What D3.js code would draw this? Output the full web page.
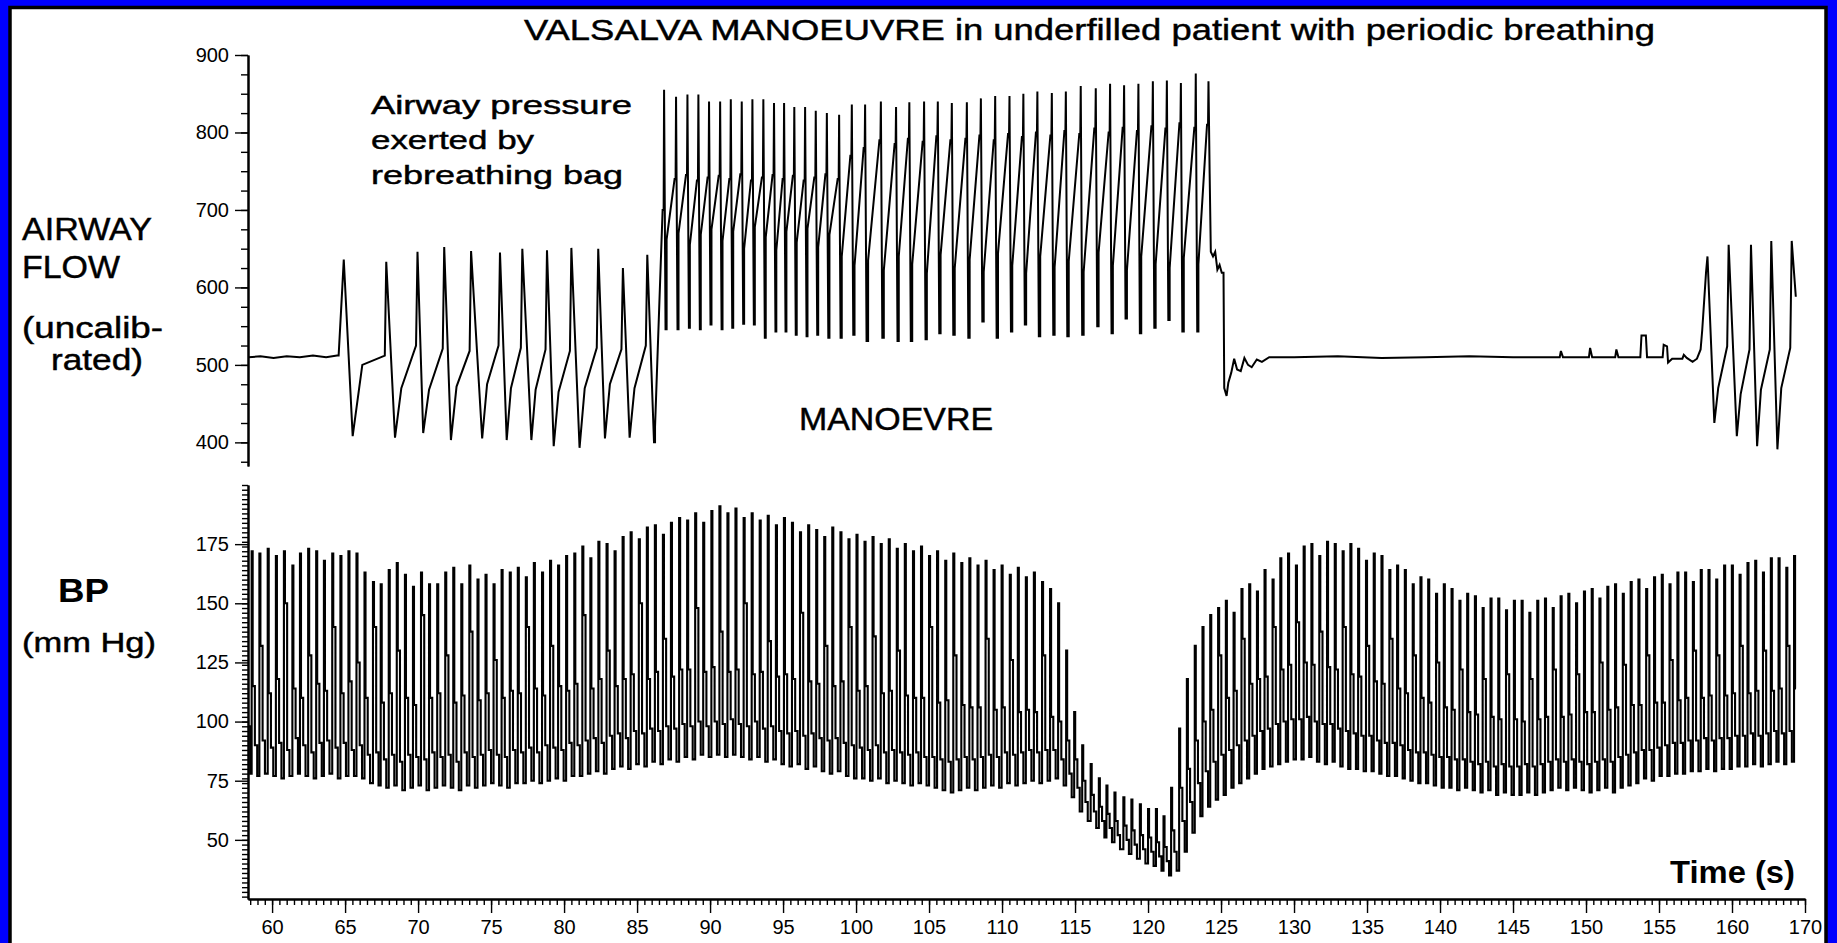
<!DOCTYPE html>
<html>
<head>
<meta charset="utf-8">
<script src="https://cdn.jsdelivr.net/npm/d3@7"></script>
<style>
  body { margin: 0; background: #0000fe; }
  svg { display: block; }
  text { font-family: "Liberation Sans", Arial, sans-serif; fill: #000; }
</style>
</head>
<body>
<div id="chart"></div>
<script>
// ---------- axis ticks ----------
var flowTicks = [400, 500, 600, 700, 800, 900];
var bpTicks = [50, 75, 100, 125, 150, 175];
var timeTicks = [60, 65, 70, 75, 80, 85, 90, 95, 100, 105, 110, 115, 120, 125, 130, 135, 140, 145, 150, 155, 160, 165];
var timeTickLabels = ["60", "65", "70", "75", "80", "85", "90", "95", "100", "105", "110", "115", "120", "125", "130", "135", "140", "145", "150", "155", "160", "170"];

// ---------- airway flow ----------
// quiet period before the first breath
var baseT = [58.38, 59.2, 60.1, 61.0, 61.9, 62.8, 63.7, 64.45];
var baseV = [510, 511, 509, 511, 510, 512, 510, 512];

// periodic breaths before the manoeuvre (peak, following trough, rise levels)
var breathPeakT = [64.91, 67.82, 69.96, 71.79, 73.63, 75.61, 77.14, 78.83, 80.50, 82.34, 84.03, 85.70];
var breathPeakV = [636, 633, 646, 652, 647, 645, 650, 648, 651, 650, 625, 642];
var breathMinT = [65.52, 68.42, 70.35, 72.25, 74.39, 76.07, 77.76, 79.29, 81.06, 82.80, 84.49, 86.16];
var breathMinV = [408, 406, 412, 403, 405, 403, 403, 395, 393, 405, 406, 400];
var breathMidV = [512, 500, 470, 468, 472, 475, 470, 468, 465, 470, 475, 470];
var breathKneeV = [600, 512, 525, 521, 518, 525, 522, 520, 518, 522, 520, 525];

// rebreathing-bag manoeuvre
var manPeakT = [86.85, 87.67, 88.45, 89.20, 89.93, 90.69, 91.42, 92.17, 92.90, 93.65,
  94.38, 95.07, 95.77, 96.51, 97.24, 98.00, 98.84, 99.71, 100.62, 101.70,
  102.74, 103.65, 104.66, 105.60, 106.56, 107.59, 108.55, 109.53, 110.51, 111.46,
  112.42, 113.41, 114.37, 115.39, 116.42, 117.40, 118.36, 119.34, 120.33, 121.29,
  122.25, 123.27, 124.14];
var manPeakV = [855, 846, 849, 849, 840, 840, 843, 840, 843, 843,
  838, 838, 833, 833, 828, 825, 823, 836, 836, 840,
  833, 839, 840, 840, 838, 839, 844, 847, 847, 850,
  853, 851, 853, 860, 857, 863, 861, 863, 866, 867,
  864, 876, 866];
var manMinT = [86.95, 87.77, 88.55, 89.30, 90.03, 90.79, 91.52, 92.27, 93.00, 93.75,
  94.48, 95.17, 95.87, 96.61, 97.34, 98.10, 98.94, 99.81, 100.72, 101.80,
  102.84, 103.75, 104.76, 105.70, 106.66, 107.69, 108.65, 109.63, 110.61, 111.56,
  112.52, 113.51, 114.47, 115.49, 116.52, 117.50, 118.46, 119.44, 120.43, 121.39,
  122.35, 123.37, 124.22];
var manMinV = [546, 546, 548, 546, 552, 546, 548, 553, 552, 535,
  543, 543, 539, 537, 539, 535, 535, 539, 531, 535,
  531, 531, 533, 541, 539, 535, 556, 535, 543, 552,
  537, 539, 537, 539, 550, 541, 560, 541, 548, 558,
  543, 543, 747];
var manMidV = [420, 662, 670, 655, 668, 675, 660, 672, 650, 678,
  665, 648, 672, 658, 676, 652, 668, 640, 628, 635,
  622, 640, 630, 618, 642, 625, 636, 620, 644, 628,
  618, 640, 626, 634, 620, 645, 628, 622, 640, 630,
  625, 638, 630];
var manKneeV = [700, 740, 745, 738, 742, 744, 740, 746, 738, 742,
  745, 740, 744, 738, 742, 746, 740, 770, 780, 790,
  785, 792, 788, 795, 790, 792, 796, 790, 798, 794,
  800, 796, 802, 798, 805, 800, 806, 802, 808, 805,
  812, 806, 810];

// release and apnoea after the manoeuvre
var tailT = [124.30, 124.45, 124.60, 124.75, 124.90, 125.05, 125.17, 125.22, 125.38, 125.50,
  125.70, 125.90, 126.10, 126.35, 126.60, 126.85, 127.10, 127.45, 127.80, 128.30,
  130.0, 133.0, 136.0, 139.0, 142.0, 145.0, 148.20, 148.28, 148.42, 150.20,
  150.28, 150.42, 152.00, 152.08, 152.22, 153.72, 153.80, 154.10, 154.18, 155.25,
  155.32, 155.55, 155.62, 155.90, 156.60, 156.70, 156.90, 157.30, 157.60, 157.85];
var tailV = [646, 640, 646, 623, 629, 619, 619, 470, 460, 477,
  490, 508, 494, 492, 509, 500, 497, 507, 504, 510,
  510, 511, 509, 510, 511, 510, 510, 518, 510, 510,
  522, 510, 510, 520, 510, 510, 538, 538, 510, 510,
  526, 524, 503, 508, 508, 513, 509, 504, 508, 520];

// breathing resumes
var postPeakT = [158.32, 159.77, 161.30, 162.69, 164.09];
var postPeakV = [640, 655, 655, 660, 660];
var postMinT = [158.79, 160.33, 161.72, 163.11, 164.37];
var postMinV = [425, 408, 395, 391, 588];
var postMidV = [545, 470, 462, 468, 470];
var postKneeV = [619, 524, 520, 520, 522];

// ---------- blood pressure, beat by beat ----------
var bpLeadT = [58.38, 58.50];
var bpLeadV = [98, 78];
var bpEndT = 164.38;

var bpTimeRest = [58.60, 59.13, 59.70, 60.26, 60.81, 61.39, 61.91, 62.47, 63.02, 63.55,
  64.12, 64.68, 65.23, 65.78, 66.33, 66.91, 67.44, 67.99, 68.54, 69.10,
  69.65, 70.20, 70.75, 71.31, 71.86, 72.41, 72.96, 73.51, 74.07, 74.62,
  75.17, 75.72, 76.28, 76.83, 77.38, 77.93, 78.49, 79.04, 79.59, 80.14,
  80.70, 81.25, 81.80, 82.35, 82.91, 83.46, 84.01, 84.56, 85.12, 85.67,
  86.22, 86.77, 87.32, 87.88, 88.43, 88.98, 89.53, 90.09, 90.64, 91.19,
  91.74, 92.30, 92.85, 93.40, 93.95, 94.51, 95.06, 95.61, 96.16, 96.72,
  97.27, 97.82, 98.37, 98.93, 99.48, 100.03, 100.58, 101.13, 101.69, 102.24,
  102.79, 103.34, 103.90, 104.45, 105.00, 105.55, 106.11, 106.66, 107.21, 107.76,
  108.32, 108.87, 109.42, 109.97, 110.53, 111.08, 111.63, 112.18, 112.74, 113.29,
  113.84, 114.39];
var bpSysRest = [172, 171, 173, 170, 172, 166, 171, 173, 172, 168,
  171, 170, 172, 171, 163, 159, 158, 164, 167, 162,
  157, 163, 158, 158, 163, 165, 158, 166, 160, 162,
  158, 164, 163, 165, 161, 167, 163, 168, 166, 170,
  171, 174, 169, 176, 175, 172, 178, 180, 177, 182,
  183, 179, 184, 186, 185, 188, 184, 189, 191, 188,
  190, 186, 188, 185, 187, 183, 186, 184, 180, 183,
  181, 178, 182, 180, 177, 179, 176, 178, 175, 177,
  173, 175, 172, 174, 170, 172, 168, 171, 167, 169,
  166, 168, 164, 166, 162, 165, 161, 163, 159, 156,
  150, 130];
var bpNotchRest = [115, 132, 112, 118, 150, 114, 110, 128, 116, 113,
  140, 112, 117, 125, 110, 140, 108, 112, 130, 110,
  107, 145, 110, 112, 128, 108, 111, 138, 109, 112,
  126, 110, 113, 112, 140, 114, 111, 132, 115, 113,
  116, 145, 114, 118, 130, 115, 118, 120, 150, 118,
  121, 135, 119, 122, 122, 148, 121, 123, 138, 121,
  122, 150, 120, 121, 134, 119, 120, 118, 146, 117,
  116, 132, 115, 117, 140, 113, 115, 136, 112, 113,
  130, 111, 110, 110, 140, 108, 109, 128, 107, 106,
  106, 135, 105, 106, 126, 104, 105, 104, 128, 102,
  100, 92];
var bpLateRest = [90, 92, 89, 91, 88, 93, 90, 87, 91, 92,
  89, 91, 88, 90, 86, 87, 84, 86, 83, 86,
  85, 84, 87, 85, 86, 83, 87, 85, 86, 88,
  86, 85, 88, 87, 89, 87, 90, 89, 88, 91,
  90, 92, 93, 91, 94, 95, 93, 96, 95, 97,
  96, 98, 97, 99, 98, 100, 98, 100, 99, 101,
  99, 98, 100, 97, 98, 96, 95, 96, 94, 95,
  93, 92, 93, 91, 90, 89, 88, 90, 87, 88,
  87, 86, 87, 85, 85, 84, 83, 84, 85, 84,
  85, 86, 85, 87, 86, 87, 88, 87, 88, 88,
  84, 78];
var bpDiaRest = [77, 78, 77, 76, 77, 78, 77, 76, 77, 78,
  76, 77, 77, 76, 74, 73, 72, 73, 71, 72,
  73, 71, 72, 73, 72, 71, 73, 72, 73, 74,
  73, 72, 74, 74, 75, 74, 75, 76, 75, 77,
  77, 78, 79, 78, 80, 81, 80, 82, 81, 83,
  82, 84, 83, 85, 84, 86, 85, 86, 85, 86,
  85, 84, 85, 83, 84, 82, 81, 82, 80, 81,
  79, 78, 79, 77, 76, 76, 75, 76, 74, 75,
  74, 73, 74, 73, 72, 71, 70, 71, 72, 71,
  72, 73, 72, 74, 73, 74, 75, 74, 75, 76,
  73, 68];

var bpTimeStrain = [114.94, 115.49, 116.07, 116.63, 117.15, 117.70, 118.31, 118.86, 119.44, 120.00, 120.54, 121.06, 121.58, 122.13];
var bpSysStrain = [104, 90, 82, 76, 73, 70, 68, 67, 65, 63, 63, 60, 72, 97];
var bpNotchStrain = [84, 75, 69, 64, 61, 58, 56, 54, 52, 51, 49, 47, 54, 72];
var bpLateStrain = [72, 66, 62, 58, 55, 52, 50, 48, 46, 45, 43, 41, 45, 58];
var bpDiaStrain = [62, 58, 55, 51, 49, 46, 44, 42, 40, 39, 37, 35, 37, 45];

var bpTimeRecovery = [122.66, 123.20, 123.73, 124.26, 124.80, 125.33, 125.86, 126.40, 126.93, 127.46,
  127.98, 128.53, 129.06, 129.59, 130.13, 130.66, 131.19, 131.73, 132.26, 132.79,
  133.33, 133.86, 134.39, 134.93, 135.46, 135.99, 136.53, 137.06, 137.59, 138.13,
  138.66, 139.19, 139.73, 140.26, 140.79, 141.33, 141.86, 142.39, 142.92, 143.46,
  143.99, 144.52, 145.06, 145.59, 146.12, 146.66, 147.19, 147.72, 148.26, 148.79,
  149.32, 149.86, 150.39, 150.92, 151.46, 151.99, 152.52, 153.06, 153.59, 154.12,
  154.66, 155.19, 155.72, 156.26, 156.79, 157.32, 157.86, 158.39, 158.92, 159.46,
  159.99, 160.52, 161.06, 161.59, 162.12, 162.66, 163.19, 163.72, 164.25];
var bpSysRecovery = [118, 132, 140, 145, 148, 151, 146, 156, 158, 155,
  164, 160, 169, 171, 166, 174, 175, 170, 176, 175,
  172, 175, 173, 168, 171, 170, 164, 166, 164, 158,
  161, 160, 154, 158, 156, 151, 154, 153, 148, 152,
  152, 147, 151, 151, 146, 151, 152, 148, 153, 154,
  150, 155, 156, 152, 157, 158, 154, 159, 160, 156,
  161, 162, 158, 163, 163, 159, 164, 164, 160, 166,
  166, 162, 167, 168, 163, 169, 169, 165, 170];
var bpNotchRecovery = [80, 92, 100, 105, 128, 110, 113, 135, 116, 118,
  119, 140, 122, 124, 142, 125, 124, 138, 123, 122,
  140, 120, 119, 132, 117, 116, 135, 114, 112, 128,
  110, 108, 125, 106, 105, 122, 104, 103, 118, 102,
  101, 120, 101, 100, 118, 101, 102, 122, 102, 103,
  120, 104, 104, 125, 105, 106, 124, 107, 107, 128,
  108, 108, 126, 109, 110, 130, 110, 111, 128, 111,
  112, 132, 112, 113, 130, 113, 114, 132, 114];
var bpLateRecovery = [66, 74, 79, 83, 86, 88, 90, 92, 94, 96,
  97, 99, 100, 101, 101, 102, 100, 99, 99, 97,
  96, 95, 94, 94, 92, 91, 91, 90, 88, 87,
  87, 86, 85, 85, 84, 84, 83, 82, 83, 81,
  82, 81, 81, 82, 81, 82, 83, 84, 83, 84,
  83, 82, 83, 84, 83, 85, 86, 87, 88, 88,
  89, 90, 91, 91, 92, 92, 93, 92, 93, 93,
  94, 94, 95, 94, 95, 96, 95, 96, 97];
var bpDiaRecovery = [53, 60, 64, 67, 69, 72, 74, 76, 78, 80,
  81, 82, 83, 84, 84, 85, 83, 82, 83, 81,
  80, 80, 79, 79, 78, 77, 77, 76, 75, 74,
  74, 73, 72, 72, 71, 72, 71, 70, 71, 69,
  70, 69, 69, 70, 69, 70, 71, 72, 71, 72,
  71, 70, 71, 72, 70, 72, 73, 74, 76, 75,
  77, 77, 78, 78, 79, 79, 80, 79, 80, 80,
  81, 81, 82, 81, 82, 83, 82, 83, 84];

// ---------- chart ----------
var width = 1837, height = 943;

var svg = d3.select("#chart")
  .append("svg")
  .attr("width", width)
  .attr("height", height);

// blue slide background + white panel
svg.append("rect").attr("width", width).attr("height", height).attr("fill", "#0000fe");
svg.append("rect")
  .attr("x", 10).attr("y", 7.5)
  .attr("width", 1816).attr("height", 950)
  .attr("fill", "#fff")
  .attr("stroke", "#000")
  .attr("stroke-width", 3.5);

var x = d3.scaleLinear().domain([58.35, 165]).range([248, 1805]);
var yFlow = d3.scaleLinear().domain([369.5, 900]).range([466, 55]);
var yBP = d3.scaleLinear().domain([25, 200]).range([899, 485]);

function styleAxis(g) {
  g.attr("font-size", 20);
  g.select(".domain").attr("stroke-width", 2);
  g.selectAll(".tick line").attr("stroke-width", 1.4);
}

// airway flow axis
svg.append("g").attr("transform", "translate(248,0)")
  .call(d3.axisLeft(yFlow).tickValues(d3.range(375, 901, 25)).tickSize(7).tickSizeOuter(0).tickFormat(""))
  .call(styleAxis);
svg.append("g").attr("transform", "translate(248,0)")
  .call(d3.axisLeft(yFlow).tickValues(flowTicks).tickSize(13).tickSizeOuter(0).tickPadding(6))
  .call(styleAxis);

// BP axis
svg.append("g").attr("transform", "translate(248,0)")
  .call(d3.axisLeft(yBP).tickValues(d3.range(26, 201, 2)).tickSize(6).tickSizeOuter(0).tickFormat(""))
  .call(styleAxis);
svg.append("g").attr("transform", "translate(248,0)")
  .call(d3.axisLeft(yBP).tickValues(bpTicks).tickSize(13).tickSizeOuter(0).tickPadding(6))
  .call(styleAxis);

// time axis
svg.append("g").attr("transform", "translate(0,899)")
  .call(d3.axisBottom(x).tickValues(d3.range(58.5, 165.01, 0.5)).tickSize(6).tickSizeOuter(0).tickFormat(""))
  .call(styleAxis);
svg.append("g").attr("transform", "translate(0,899)")
  .call(d3.axisBottom(x).tickValues(timeTicks).tickSize(14).tickSizeOuter(0).tickPadding(7)
    .tickFormat(function(d, i) { return timeTickLabels[i]; }))
  .call(styleAxis);

// ---- airway flow trace ----
var flowPoints = baseT.map(function(t, i) { return [t, baseV[i]]; });

// breaths: concave rise; manoeuvre: quick step up, then ramp to the knee before each spike
function addCycles(peakT, peakV, minT, minV, midV, kneeV, stepped) {
  peakT.forEach(function(t, i) {
    var prev = flowPoints[flowPoints.length - 1];
    var tKnee = t - 0.1;
    if (stepped) {
      var tMid = prev[0] + (tKnee - prev[0]) * 0.12;
      flowPoints.push([tMid, prev[1]], [tMid, midV[i]], [tKnee, kneeV[i]], [t - 0.03, kneeV[i]]);
    } else {
      flowPoints.push([prev[0] + (tKnee - prev[0]) * 0.3, midV[i]], [tKnee, kneeV[i]]);
    }
    flowPoints.push([t, peakV[i]]);
    flowPoints.push([minT[i], minV[i]]);
  });
}

addCycles(breathPeakT, breathPeakV, breathMinT, breathMinV, breathMidV, breathKneeV, false);
addCycles(manPeakT, manPeakV, manMinT, manMinV, manMidV, manKneeV, true);
tailT.forEach(function(t, i) { flowPoints.push([t, tailV[i]]); });
addCycles(postPeakT, postPeakV, postMinT, postMinV, postMidV, postKneeV, false);

var flowLine = d3.line()
  .x(function(d) { return x(d[0]); })
  .y(function(d) { return yFlow(d[1]); });

svg.append("path")
  .datum(flowPoints)
  .attr("d", flowLine)
  .attr("fill", "none")
  .attr("stroke", "#000")
  .attr("stroke-width", 2);

// ---- BP trace (sample-and-hold look) ----
var bpTime = bpTimeRest.concat(bpTimeStrain, bpTimeRecovery);
var bpSys = bpSysRest.concat(bpSysStrain, bpSysRecovery);
var bpNotch = bpNotchRest.concat(bpNotchStrain, bpNotchRecovery);
var bpLate = bpLateRest.concat(bpLateStrain, bpLateRecovery);
var bpDia = bpDiaRest.concat(bpDiaStrain, bpDiaRecovery);

var bpPoints = bpLeadT.map(function(t, i) { return [t, bpLeadV[i]]; });
bpTime.forEach(function(t, i) {
  bpPoints.push([t, bpSys[i]]);
  bpPoints.push([t + 0.07, bpNotch[i]]);
  if (i < bpTime.length - 1) {
    bpPoints.push([t + 0.22, bpLate[i]]);
    bpPoints.push([t + 0.38, bpDia[i]]);
  }
});
bpPoints.push([bpEndT, bpNotch[bpNotch.length - 1]]);

var bpLine = d3.line()
  .x(function(d) { return x(d[0]); })
  .y(function(d) { return yBP(d[1]); })
  .curve(d3.curveStepAfter);

svg.append("path")
  .datum(bpPoints)
  .attr("d", bpLine)
  .attr("fill", "none")
  .attr("stroke", "#000")
  .attr("stroke-width", 2.1);

// ---- texts ----
function label(txt, px, py, size, weight, len) {
  svg.append("text")
    .attr("x", px).attr("y", py)
    .attr("font-size", size)
    .attr("font-weight", weight)
    .attr("textLength", len)
    .attr("lengthAdjust", "spacingAndGlyphs")
    .attr("stroke", "#000")
    .attr("stroke-width", weight === "bold" ? 0 : 0.45)
    .text(txt);
}

label("VALSALVA MANOEUVRE in underfilled patient with periodic breathing", 524, 40, 30, "normal", 1131);
label("Airway pressure", 371, 114, 26, "normal", 261);
label("exerted by", 371, 149, 26, "normal", 163);
label("rebreathing bag", 371, 184, 26, "normal", 252);
label("AIRWAY", 22, 240, 31, "normal", 130);
label("FLOW", 22, 278, 31, "normal", 98);
label("(uncalib-", 22, 338, 29, "normal", 141);
label("rated)", 51, 370, 29, "normal", 92);
label("MANOEVRE", 799, 430, 31, "normal", 194);
label("BP", 58, 602, 33, "bold", 51);
label("(mm Hg)", 22, 652, 27, "normal", 134);
label("Time (s)", 1670, 883, 32, "bold", 125);
</script>
</body>
</html>
